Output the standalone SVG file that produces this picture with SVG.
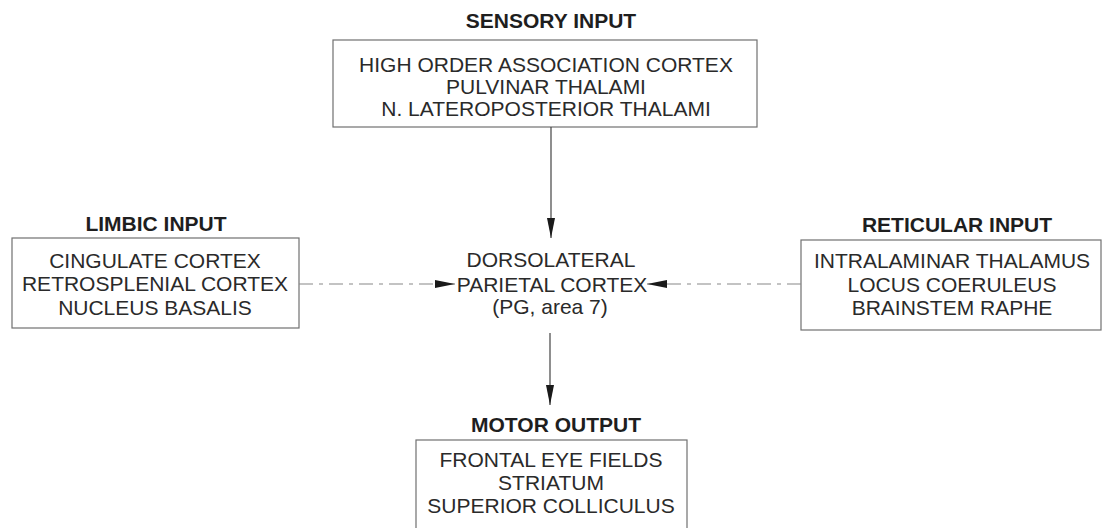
<svg xmlns="http://www.w3.org/2000/svg" width="1103" height="528" viewBox="0 0 1103 528">
  <defs>
    <style>
      .title { font-family: "Liberation Sans", Arial, sans-serif; font-weight: bold; font-size: 21px; fill: #1e1e1e; text-anchor: middle; }
      .body { font-family: "Liberation Sans", Arial, sans-serif; font-size: 21px; fill: #2a2a2a; text-anchor: middle; }
      .box { fill: none; stroke: #707070; stroke-width: 1.2; }
      .link { fill: none; stroke: #444; stroke-width: 1.2; }
      .faint { fill: none; stroke: #888; stroke-width: 1.2; stroke-dasharray: 14 6 4 6; }
    </style>
    <marker id="head" viewBox="0 0 20 8" refX="20" refY="4" markerWidth="20" markerHeight="8" markerUnits="userSpaceOnUse" orient="auto">
      <path d="M0,0 L20,4 L0,8 Z" fill="#1a1a1a"/>
    </marker>
  </defs>
  <rect width="1103" height="528" fill="#ffffff"/>

  <!-- sensory input -->
  <g id="sensory">
    <text class="title" x="551" y="28">SENSORY INPUT</text>
    <rect class="box" x="333" y="40" width="424" height="87"/>
    <text class="body" x="546" y="72">HIGH ORDER ASSOCIATION CORTEX</text>
    <text class="body" x="546" y="94">PULVINAR THALAMI</text>
    <text class="body" x="546" y="116">N. LATEROPOSTERIOR THALAMI</text>
  </g>

  <!-- limbic input -->
  <g id="limbic">
    <text class="title" x="156" y="231">LIMBIC INPUT</text>
    <rect class="box" x="12" y="238" width="287" height="90"/>
    <text class="body" x="155" y="268">CINGULATE CORTEX</text>
    <text class="body" x="155" y="291">RETROSPLENIAL CORTEX</text>
    <text class="body" x="155" y="315">NUCLEUS BASALIS</text>
  </g>

  <!-- reticular input -->
  <g id="reticular">
    <text class="title" x="957" y="232">RETICULAR INPUT</text>
    <rect class="box" x="801" y="240" width="300" height="90"/>
    <text class="body" x="952" y="268">INTRALAMINAR THALAMUS</text>
    <text class="body" x="952" y="292">LOCUS COERULEUS</text>
    <text class="body" x="952" y="315">BRAINSTEM RAPHE</text>
  </g>

  <!-- central cortex -->
  <g id="parietal">
    <text class="body" x="551" y="267">DORSOLATERAL</text>
    <text class="body" x="552" y="292">PARIETAL CORTEX</text>
    <text class="body" x="550" y="314">(PG, area 7)</text>
  </g>

  <!-- motor output -->
  <g id="motor">
    <text class="title" x="556" y="432">MOTOR OUTPUT</text>
    <rect class="box" x="416" y="440" width="271" height="100"/>
    <text class="body" x="551" y="467">FRONTAL EYE FIELDS</text>
    <text class="body" x="551" y="490">STRIATUM</text>
    <text class="body" x="551" y="513">SUPERIOR COLLICULUS</text>
  </g>

  <!-- connectors -->
  <g id="connectors">
    <line class="link" x1="551" y1="127" x2="551" y2="238" marker-end="url(#head)"/>
    <line class="link" x1="550" y1="333" x2="550" y2="405" marker-end="url(#head)"/>
    <line class="faint" x1="299" y1="284" x2="455" y2="284" marker-end="url(#head)"/>
    <line class="faint" x1="801" y1="284" x2="647" y2="284" marker-end="url(#head)"/>
  </g>
</svg>
